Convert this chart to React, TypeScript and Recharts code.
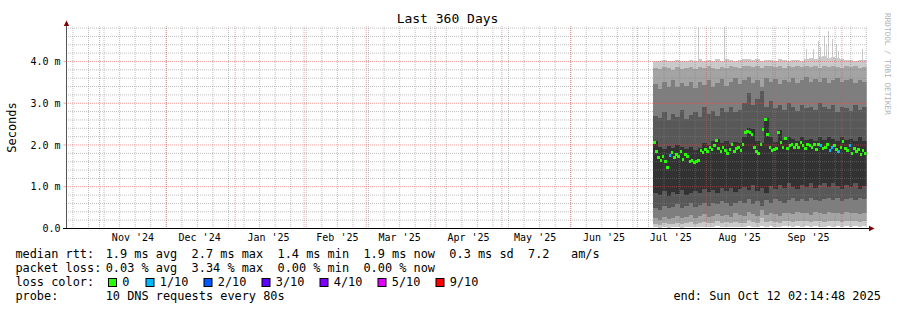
import React from 'react';
import { ComposedChart, Area, Line, Scatter, XAxis, YAxis, ReferenceLine } from 'recharts';

const FONT = '"DejaVu Sans Mono", monospace';

// ---- axis / grid values (days since start of the 360 day window) ----
const X_LABEL_DAYS = [29.9, 59.9, 90.9, 121.9, 149.9, 180.9, 210.9, 241.9, 271.9, 302.9, 333.9];
const X_LABELS = ["Nov '24", "Dec '24", "Jan '25", "Feb '25", "Mar '25", "Apr '25", "May '25", "Jun '25", "Jul '25", "Aug '25", "Sep '25"];
const MONTH_START_DAYS = [14.9, 44.9, 75.9, 106.9, 134.9, 165.9, 195.9, 226.9, 256.9, 287.9, 318.9, 348.9];
const WEEK_DAYS = [2.9, 9.9, 16.9, 23.9, 30.9, 37.9, 44.9, 51.9, 58.9, 65.9, 72.9, 79.9, 86.9, 93.9, 100.9, 107.9, 114.9, 121.9, 128.9, 135.9, 142.9, 149.9, 156.9, 163.9, 170.9, 177.9, 184.9, 191.9, 198.9, 205.9, 212.9, 219.9, 226.9, 233.9, 240.9, 247.9, 254.9, 261.9, 268.9, 275.9, 282.9, 289.9, 296.9, 303.9, 310.9, 317.9, 324.9, 331.9, 338.9, 345.9, 352.9, 359.9];
const Y_TICKS = [0, 1, 2, 3, 4];
const Y_LABELS = ['0.0', '1.0 m', '2.0 m', '3.0 m', '4.0 m'];
const Y_MINOR = [0.2, 0.4, 0.6, 0.8, 1.2, 1.4, 1.6, 1.8, 2.2, 2.4, 2.6, 2.8, 3.2, 3.4, 3.6, 3.8, 4.2, 4.4, 4.6, 4.8];
const Y_MAX = 4.838;

// ---- smoke (sorted ping ranks, ms), one value every 2 days ----
const BAND_DAYS = [264, 266, 268, 270, 272, 274, 276, 278, 280, 282, 284, 286, 288, 290, 292, 294, 296, 298, 300, 302, 304, 306, 308, 310, 312, 314, 316, 318, 320, 322, 324, 326, 328, 330, 332, 334, 336, 338, 340, 342, 344, 346, 348, 350, 352, 354, 356, 358, 360];
const P10 = [
  4.02, 4.0, 4.03, 4.0, 4.02, 4.04, 4.0, 4.02, 4.03, 4.01,
  4.05, 4.02, 4.03, 4.0, 4.05, 4.02, 4.06, 4.03, 4.01, 4.04,
  4.05, 4.06, 4.03, 4.05, 4.02, 4.04, 4.03, 4.02, 4.05, 4.03,
  4.02, 4.04, 4.03, 4.02, 4.06, 4.08, 4.05, 4.1, 4.12, 4.08,
  4.1, 4.09, 4.06, 4.04, 4.03, 4.02, 4.03, 4.04, 4.02];
const P9 = [
  3.85, 3.82, 3.86, 3.84, 3.8, 3.86, 3.83, 3.85, 3.87, 3.82,
  3.86, 3.84, 3.88, 3.85, 3.83, 3.87, 3.85, 3.9, 3.86, 3.84,
  3.88, 3.9, 3.86, 3.89, 3.85, 3.88, 3.9, 3.86, 3.88, 3.85,
  3.89, 3.87, 3.9, 3.86, 3.88, 3.87, 3.9, 3.85, 3.88, 3.86,
  3.89, 3.87, 3.85, 3.88, 3.86, 3.89, 3.85, 3.87, 3.86];
const P8 = [
  3.45, 3.35, 3.5, 3.4, 3.55, 3.38, 3.48, 3.42, 3.52, 3.36,
  3.5, 3.44, 3.55, 3.4, 3.48, 3.58, 3.42, 3.5, 3.6, 3.45,
  3.55, 3.62, 3.48, 3.56, 3.4, 3.6, 3.5, 3.58, 3.45, 3.55,
  3.5, 3.6, 3.48, 3.55, 3.62, 3.5, 3.58, 3.52, 3.6, 3.48,
  3.56, 3.6, 3.5, 3.55, 3.58, 3.48, 3.56, 3.52, 3.55];
const P7 = [
  2.7, 2.65, 2.8, 2.6, 2.75, 2.68, 2.85, 2.62, 2.72, 2.78,
  2.66, 2.9, 2.75, 2.82, 2.7, 2.88, 2.78, 2.92, 2.8, 2.85,
  3.0, 3.25, 2.95, 3.1, 3.3, 2.9, 3.05, 2.88, 2.95, 2.85,
  3.0, 2.9, 2.82, 2.95, 2.88, 2.92, 2.85, 3.0, 2.9, 2.86,
  2.95, 2.8, 2.92, 2.88, 2.82, 2.95, 2.85, 2.9, 2.87];
const P6 = [
  2.1, 1.95, 1.9, 1.98, 1.92, 2.0, 1.95, 1.9, 1.96, 1.88,
  1.92, 2.05, 2.0, 2.1, 2.15, 2.05, 2.1, 2.02, 2.08, 2.05,
  2.2, 2.4, 2.38, 2.1, 2.05, 2.65, 2.2, 2.08, 2.35, 2.12,
  2.2, 2.15, 2.1, 2.18, 2.12, 2.15, 2.1, 2.18, 2.12, 2.2,
  2.15, 2.1, 2.2, 2.12, 2.15, 2.1, 2.18, 2.1, 2.08];
const P5 = [
  0.85, 0.8, 0.9, 0.78, 0.88, 0.82, 0.92, 0.8, 0.86, 0.9,
  0.84, 0.95, 0.88, 0.92, 0.85, 0.96, 0.9, 0.98, 0.88, 0.95,
  1.0, 0.92, 1.05, 0.9, 0.98, 0.85, 1.02, 0.95, 1.05, 0.98,
  1.08, 1.0, 0.95, 1.05, 1.0, 1.1, 0.98, 1.05, 1.08, 1.0,
  1.1, 1.02, 0.95, 1.05, 1.0, 1.08, 0.95, 1.02, 1.0];
const P4 = [
  0.5, 0.45, 0.55, 0.48, 0.52, 0.58, 0.5, 0.55, 0.6, 0.52,
  0.56, 0.62, 0.55, 0.6, 0.58, 0.65, 0.6, 0.55, 0.62, 0.66,
  0.6, 0.7, 0.58, 0.65, 0.55, 0.68, 0.62, 0.7, 0.65, 0.6,
  0.68, 0.72, 0.65, 0.7, 0.66, 0.72, 0.68, 0.65, 0.7, 0.74,
  0.68, 0.72, 0.66, 0.7, 0.74, 0.68, 0.72, 0.7, 0.68];
const P3 = [
  0.25, 0.2, 0.28, 0.22, 0.26, 0.3, 0.24, 0.28, 0.32, 0.26,
  0.3, 0.34, 0.28, 0.3, 0.35, 0.3, 0.33, 0.28, 0.36, 0.32,
  0.3, 0.4, 0.34, 0.3, 0.45, 0.32, 0.38, 0.35, 0.3, 0.36,
  0.38, 0.34, 0.4, 0.36, 0.38, 0.33, 0.4, 0.37, 0.35, 0.4,
  0.36, 0.38, 0.34, 0.4, 0.36, 0.38, 0.35, 0.37, 0.36];
const P2 = [
  0.1, 0.08, 0.12, 0.1, 0.11, 0.14, 0.1, 0.12, 0.15, 0.11,
  0.13, 0.16, 0.12, 0.14, 0.18, 0.13, 0.15, 0.12, 0.16, 0.14,
  0.13, 0.2, 0.15, 0.14, 0.25, 0.15, 0.18, 0.16, 0.14, 0.17,
  0.18, 0.16, 0.19, 0.17, 0.18, 0.15, 0.19, 0.17, 0.16, 0.19,
  0.17, 0.18, 0.16, 0.19, 0.17, 0.18, 0.16, 0.18, 0.17];
const P1 = [
  0.03, 0.02, 0.03, 0.02, 0.03, 0.04, 0.02, 0.03, 0.04, 0.03,
  0.03, 0.04, 0.03, 0.04, 0.05, 0.03, 0.04, 0.03, 0.04, 0.04,
  0.03, 0.05, 0.04, 0.04, 0.06, 0.04, 0.05, 0.04, 0.04, 0.05,
  0.05, 0.04, 0.05, 0.04, 0.05, 0.04, 0.05, 0.04, 0.04, 0.05,
  0.04, 0.05, 0.04, 0.05, 0.04, 0.05, 0.04, 0.05, 0.04];

// ---- occasional slow ping spikes above the smoke ----
const SPIKE_DAYS = [284.2, 296.3, 333.2, 336.0, 338.2, 339.5, 340.9, 342.2, 343.1, 344.9, 346.3, 347.6, 358.0];
const SPIKE_TOPS = [4.8, 4.82, 4.3, 4.3, 4.5, 4.35, 4.62, 4.4, 4.72, 4.55, 4.42, 4.25, 4.3];
const SPIKE_BASE = 3.98;

// ---- median rtt (ms), one value per day from day 264, and loss count ----
const MEDIAN_FIRST_DAY = 264.5;
const MEDIAN = [
  2.05, 1.85, 1.7, 1.62, 1.72, 1.6, 1.45, 1.75, 1.82, 1.7,
  1.78, 1.72, 1.85, 1.65, 1.78, 1.72, 1.6, 1.62, 1.57, 1.6,
  1.62, 1.88, 1.82, 1.9, 1.85, 1.95, 1.9, 1.98, 2.1, 1.92,
  1.85, 1.95, 1.88, 1.8, 1.9, 2.0, 1.85, 1.92, 1.95, 1.88,
  2.0, 2.3, 2.32, 2.3, 2.25, 1.95, 1.85, 1.8, 2.0, 2.38,
  2.6, 2.25, 1.95, 1.88, 1.9, 1.92, 2.3, 2.05, 1.95, 2.15,
  1.92, 1.98, 2.02, 1.95, 2.0, 1.95, 2.05, 1.98, 1.92, 2.02,
  1.98, 1.95, 2.0, 1.9, 2.02, 1.98, 1.92, 1.95, 2.0, 1.88,
  1.95, 1.98, 1.9, 1.85, 1.95, 2.08, 1.92, 1.88, 1.98, 1.8,
  1.92, 1.85, 1.9, 1.78, 1.88, 1.8];
const LOSS = [
  0, 0, 0, 0, 0, 0, 0, 1, 0, 0,
  0, 0, 0, 0, 0, 0, 0, 0, 0, 0,
  0, 0, 0, 0, 0, 0, 0, 0, 0, 0,
  0, 0, 0, 0, 0, 0, 0, 0, 0, 0,
  0, 0, 0, 0, 0, 0, 0, 0, 0, 0,
  0, 0, 0, 0, 0, 0, 0, 0, 0, 0,
  0, 0, 0, 0, 0, 0, 0, 0, 0, 0,
  0, 0, 0, 0, 0, 1, 0, 0, 0, 1,
  1, 0, 0, 1, 0, 0, 0, 0, 1, 0,
  0, 0, 0, 0, 0, 0];

// ---- legend ----
const LOSS_KEYS = [0, 1, 2, 3, 4, 5, 9];
const LOSS_LABELS = ['0', '1/10', '2/10', '3/10', '4/10', '5/10', '9/10'];
const LOSS_COLORS: Record<number, string> = { 0: '#26ff00', 1: '#00b8ff', 2: '#0059ff', 3: '#5e00ff', 4: '#7e00ff', 5: '#dd00ff', 9: '#ff0000' };
const LEGEND_LABELS = ['median rtt:', 'packet loss:', 'loss color:', 'probe:'];
const LEGEND_VALUES = [
  '1.9 ms avg  2.7 ms max  1.4 ms min  1.9 ms now  0.3 ms sd  7.2   am/s',
  '0.03 % avg  3.34 % max  0.00 % min  0.00 % now',
  '',
  '10 DNS requests every 80s',
];
const END_TEXT = 'end: Sun Oct 12 02:14:48 2025';
const TITLE = 'Last 360 Days';
const Y_TITLE = 'Seconds';
const WATERMARK = 'RRDTOOL / TOBI OETIKER';

const SMOKE_COLORS = ['#cacaca', '#a4a4a4', '#7e7e7e', '#585858', '#323232'];

const bandRows = BAND_DAYS.map((day, i) => ({
  day,
  r1: [P1[i], P10[i]],
  r2: [P2[i], P9[i]],
  r3: [P3[i], P8[i]],
  r4: [P4[i], P7[i]],
  r5: [P5[i], P6[i]],
}));
const spikeRows = SPIKE_DAYS.flatMap((day, i) => [
  { day, v: SPIKE_BASE },
  { day, v: SPIKE_TOPS[i] },
  { day, v: null },
]);
const medianRows = MEDIAN.map((m, i) => ({ day: MEDIAN_FIRST_DAY + i, median: m, loss: LOSS[i] }));

const MedianMark = (props: any) => {
  const { cx, cy, payload } = props;
  if (cx == null || cy == null) return null;
  return (
    <rect
      x={cx - 1.3}
      y={cy - 1.5}
      width={2.6}
      height={3}
      fill={LOSS_COLORS[payload.loss]}
      shapeRendering="crispEdges"
    />
  );
};

const MINOR = { stroke: '#808080', strokeOpacity: 0.5, strokeDasharray: '1 1', strokeDashoffset: 0.5, strokeWidth: 1 };
const MAJOR = { stroke: '#e05050', strokeOpacity: 0.55, strokeDasharray: '1 1', strokeDashoffset: 0.5, strokeWidth: 1 };

const LEGEND_BASE = [258, 272, 286, 300];
const BOX_X = [108, 145.5, 203.5, 261.5, 319.5, 377.5, 435.5];

export default function App() {
  return (
    <div style={{ position: 'absolute', left: 0, top: 0, width: 897, height: 310, background: '#fff' }}>
      <ComposedChart
        width={897}
        height={310}
        data={bandRows}
        margin={{ top: 26.5, right: 30.5, bottom: 51.5, left: 16.5 }}
      >
        <XAxis
          type="number"
          dataKey="day"
          domain={[0, 360]}
          allowDataOverflow
          ticks={X_LABEL_DAYS}
          interval={0}
          tickFormatter={(v: number) => X_LABELS[X_LABEL_DAYS.indexOf(v)] ?? ''}
          tickLine={false}
          tickSize={5}
          tickMargin={0}
          height={30}
          axisLine={{ stroke: '#000', strokeWidth: 1 }}
          tick={{ fontFamily: FONT, fontSize: 10, fill: '#000' }}
        />
        <YAxis
          type="number"
          domain={[0, Y_MAX]}
          allowDataOverflow
          ticks={Y_TICKS}
          interval={0}
          width={50}
          tickFormatter={(v: number) => Y_LABELS[Y_TICKS.indexOf(v)] ?? ''}
          tickSize={3}
          tickMargin={3}
          tickLine={{ stroke: '#e05050', strokeOpacity: 0.5 }}
          axisLine={{ stroke: '#555', strokeWidth: 1 }}
          tick={{ fontFamily: FONT, fontSize: 10, fill: '#000' }}
        />
        {SMOKE_COLORS.map((c, i) => (
          <Area
            key={'band' + i}
            dataKey={'r' + (i + 1)}
            type="stepAfter"
            fill={c}
            fillOpacity={1}
            stroke="none"
            dot={false}
            activeDot={false}
            isAnimationActive={false}
            shapeRendering="crispEdges"
          />
        ))}
        <Line
          data={spikeRows}
          dataKey="v"
          type="linear"
          stroke="#cacaca"
          strokeWidth={1}
          dot={false}
          activeDot={false}
          connectNulls={false}
          isAnimationActive={false}
          shapeRendering="crispEdges"
        />
        {Y_MINOR.map((v) => (
          <ReferenceLine key={'hm' + v} y={v} {...MINOR} />
        ))}
        {WEEK_DAYS.map((d) => (
          <ReferenceLine key={'vm' + d} x={d} {...MINOR} />
        ))}
        {Y_TICKS.filter((v) => v > 0).map((v) => (
          <ReferenceLine key={'hM' + v} y={v} {...MAJOR} />
        ))}
        {MONTH_START_DAYS.map((d) => (
          <ReferenceLine key={'vM' + d} x={d} {...MAJOR} />
        ))}
        <Scatter data={medianRows} dataKey="median" shape={MedianMark} isAnimationActive={false} />
      </ComposedChart>
      <svg width={897} height={310} style={{ position: 'absolute', left: 0, top: 0, pointerEvents: 'none' }}>
        <text x={447.5} y={23} textAnchor="middle" fontFamily={FONT} fontSize={13} fill="#000">{TITLE}</text>
        <text transform="translate(15.5,127.5) rotate(-90)" textAnchor="middle" fontFamily={FONT} fontSize={12} fill="#000">{Y_TITLE}</text>
        <text transform="translate(885,13) rotate(90)" fontFamily={FONT} fontSize={7.7} fill="#b0b0b0">{WATERMARK}</text>
        {/* axis extensions and arrows */}
        <line x1={66.5} y1={22} x2={66.5} y2={27} stroke="#555" strokeWidth={1} />
        <line x1={63} y1={228.5} x2={870} y2={228.5} stroke="#000" strokeWidth={1} />
        <polygon points="63.8,26 69.2,26 66.5,20.5" fill="#800000" />
        <polygon points="869,225.8 869,231.2 874.5,228.5" fill="#800000" />
        {LEGEND_LABELS.map((l, i) => (
          <text key={'ll' + i} x={15.4} y={LEGEND_BASE[i]} fontFamily={FONT} fontSize={11.9} fill="#000" xmlSpace="preserve" style={{ whiteSpace: 'pre' }}>{l}</text>
        ))}
        {LEGEND_VALUES.map((v, i) => (
          <text key={'lv' + i} x={105.7} y={LEGEND_BASE[i]} fontFamily={FONT} fontSize={11.9} fill="#000" xmlSpace="preserve" style={{ whiteSpace: 'pre' }}>{v}</text>
        ))}
        {LOSS_KEYS.map((k, i) => (
          <g key={'lk' + k}>
            <rect x={BOX_X[i] + 0.5} y={278.5} width={8} height={8} fill={LOSS_COLORS[k]} stroke="#000" strokeWidth={1} />
            <text x={BOX_X[i] + 14.3} y={286} fontFamily={FONT} fontSize={11.9} fill="#000">{LOSS_LABELS[i]}</text>
          </g>
        ))}
        <text x={881} y={300} textAnchor="end" fontFamily={FONT} fontSize={11.9} fill="#000">{END_TEXT}</text>
      </svg>
    </div>
  );
}
